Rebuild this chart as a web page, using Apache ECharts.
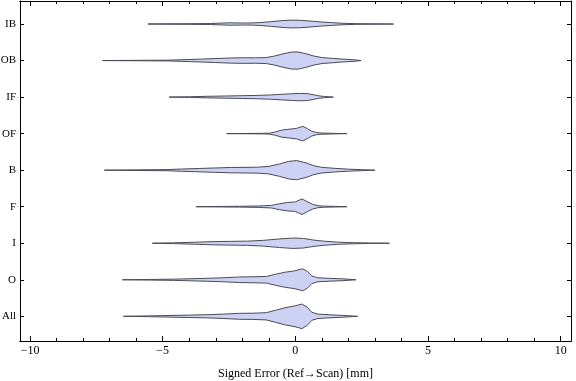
<!DOCTYPE html>
<html>
<head>
<meta charset="utf-8">
<script src="https://cdn.jsdelivr.net/npm/echarts@6/dist/echarts.min.js"></script>
<style>
html,body{margin:0;padding:0;background:#fff;}
#chart{width:576px;height:381px;}
</style>
</head>
<body>
<div id="chart"></div>
<script>
// Categories, bottom to top
const categories = ['All', 'O', 'I', 'F', 'B', 'OF', 'IF', 'OB', 'IB'];

// Violin profiles: [signed error (mm), relative half-width density]
const violinAll = [[-6.48,0],[-5.5,0.4],[-4.8,0.8],[-4.0,1.2],[-3.3,1.6],[-2.7,2.2],[-2.1,3.0],[-1.6,3.1],[-1.1,3.6],[-0.75,6.0],[-0.4,8.5],[-0.05,10.2],[0.25,12.3],[0.45,9.0],[0.62,4.0],[0.85,2.2],[1.3,1.5],[1.8,0.9],[2.35,0]];
const violinO = [[-6.52,0],[-5.5,0.3],[-4.6,0.6],[-4.0,1.0],[-3.3,1.5],[-2.7,2.0],[-2.1,2.8],[-1.6,3.0],[-1.1,3.3],[-0.75,5.5],[-0.4,7.5],[-0.05,8.8],[0.28,11.0],[0.45,8.5],[0.62,3.8],[0.85,2.0],[1.3,1.4],[1.8,0.9],[2.28,0]];
const violinI = [[-5.39,0],[-4.6,0.4],[-3.8,1.0],[-3.1,1.6],[-2.4,1.9],[-1.8,2.1],[-1.2,2.9],[-0.6,4.3],[-0.1,5.2],[0.3,4.8],[0.7,3.1],[1.1,2.0],[1.6,1.1],[2.2,0.5],[2.8,0.25],[3.54,0]];
const violinF = [[-3.74,0],[-3.0,0.2],[-2.1,0.4],[-1.4,0.7],[-0.9,1.3],[-0.6,3.0],[-0.3,4.2],[0.0,4.8],[0.25,7.8],[0.45,5.0],[0.65,2.4],[0.85,1.0],[1.1,0.5],[1.5,0.3],[1.94,0]];
const violinB = [[-7.2,0],[-6.0,0.3],[-4.8,0.6],[-4.3,1.1],[-3.6,1.7],[-3.0,2.2],[-2.4,2.7],[-1.9,2.8],[-1.4,3.0],[-1.0,3.8],[-0.6,6.2],[-0.25,8.8],[0.05,9.6],[0.4,7.3],[0.7,4.4],[1.0,2.8],[1.5,1.8],[2.0,1.0],[2.5,0.5],[3.0,0]];
const violinOF = [[-2.59,0],[-1.8,0.15],[-1.2,0.3],[-0.95,0.6],[-0.75,1.7],[-0.5,3.6],[-0.2,4.5],[0.05,5.3],[0.28,7.3],[0.45,5.0],[0.62,2.4],[0.8,1.1],[1.0,0.6],[1.4,0.3],[1.94,0]];
const violinIF = [[-4.76,0],[-4.0,0.3],[-3.3,0.8],[-2.6,1.1],[-2.0,1.4],[-1.4,1.7],[-0.9,2.2],[-0.5,2.8],[-0.1,3.4],[0.15,3.7],[0.45,3.5],[0.7,2.2],[0.9,1.2],[1.1,0.6],[1.43,0]];
const violinOB = [[-7.27,0],[-6.0,0.2],[-4.8,0.4],[-4.3,0.8],[-3.6,1.4],[-3.0,2.0],[-2.4,2.6],[-2.0,2.8],[-1.5,2.7],[-1.1,3.0],[-0.8,4.4],[-0.5,6.5],[-0.15,8.5],[0.1,8.6],[0.4,6.8],[0.7,4.5],[1.0,3.0],[1.4,2.2],[1.8,1.4],[2.2,0.8],[2.48,0]];
const violinIB = [[-5.56,0],[-5.0,0.2],[-4.0,0.3],[-3.2,0.5],[-2.8,0.9],[-2.5,1.2],[-2.0,1.0],[-1.6,1.1],[-1.3,1.5],[-0.9,2.4],[-0.5,3.4],[-0.15,3.9],[0.2,3.7],[0.6,2.9],[1.0,2.0],[1.4,1.3],[1.8,0.7],[2.3,0.35],[3.0,0.2],[3.7,0]];

const profiles = [violinAll, violinO, violinI, violinF, violinB, violinOF, violinIF, violinOB, violinIB];

// Axis ticks
const xMajorTicks = [-10, -5, 0, 5, 10];
const xMinorTicks = [-9,-8,-7,-6,-4,-3,-2,-1,1,2,3,4,6,7,8,9];
const yTicks = [1,2,3,4,5,6,7,8,9];

const densityScale = 1 / 36.54;
const X_MIN = -10.38, X_MAX = 10.39, Y_MIN = 0.324, Y_MAX = 9.63;

const serif = '"Liberation Serif","DejaVu Serif",serif';
const fmtX = v => v < 0 ? '\u2212' + Math.abs(v) : String(v);

function xAx(pos, ticks, len, labels) {
  return {
    type: 'value', position: pos, min: X_MIN, max: X_MAX,
    axisLine: {show: true, onZero: false, lineStyle: {color: '#000', width: 1}},
    axisTick: {show: true, inside: true, length: len, customValues: ticks, lineStyle: {color: '#000', width: 1}},
    axisLabel: labels ? {show: true, customValues: ticks, formatter: fmtX, fontFamily: serif, fontSize: 12, color: '#000', margin: 4} : {show: false},
    splitLine: {show: false}
  };
}
function yAx(pos, labels) {
  return {
    type: 'value', position: pos, min: Y_MIN, max: Y_MAX,
    axisLine: {show: true, onZero: false, lineStyle: {color: '#000', width: 1}},
    axisTick: {show: true, inside: true, length: 4, customValues: yTicks, lineStyle: {color: '#000', width: 1}},
    axisLabel: labels ? {show: true, customValues: yTicks, formatter: v => categories[Math.round(v) - 1], fontFamily: serif, fontSize: 11, color: '#000', margin: 4} : {show: false},
    splitLine: {show: false}
  };
}

const xAxes = [xAx('bottom', xMajorTicks, 5, true), xAx('bottom', xMinorTicks, 3, false), xAx('top', xMajorTicks, 5, false), xAx('top', xMinorTicks, 3, false)];
xAxes[0].name = 'Signed Error (Ref\u2192Scan) [mm]';
xAxes[0].nameLocation = 'middle';
xAxes[0].nameGap = 27;
xAxes[0].nameTextStyle = {fontFamily: serif, fontSize: 12, color: '#000'};

const chart = echarts.init(document.getElementById('chart'), null, {renderer: 'canvas'});
chart.setOption({
  animation: false,
  backgroundColor: '#fff',
  grid: {left: 20, right: 5, top: 1, bottom: 40, containLabel: false, outerBoundsMode: 'none'},
  xAxis: xAxes,
  yAxis: [yAx('left', true), yAx('right', false)],
  series: [{
    type: 'custom',
    xAxisIndex: 0, yAxisIndex: 0,
    data: categories.map((c, i) => [0, i + 1]),
    renderItem: function (params, api) {
      const yc = api.value(1);
      const prof = profiles[params.dataIndex];
      const up = [], lo = [];
      prof.forEach(p => {
        up.push(api.coord([p[0], yc + p[1] * densityScale]));
        lo.push(api.coord([p[0], yc - p[1] * densityScale]));
      });
      return {
        type: 'polygon',
        shape: {points: up.concat(lo.reverse())},
        style: {fill: '#cdd2f4', stroke: '#4b4b55', lineWidth: 1}
      };
    }
  }]
});
</script>
</body>
</html>
